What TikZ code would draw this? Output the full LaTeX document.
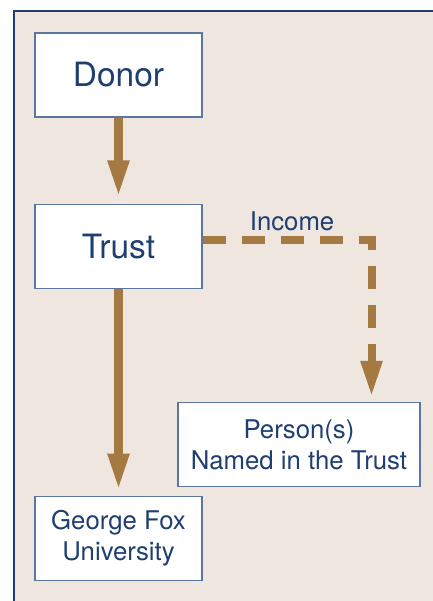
\documentclass[tikz,border=0pt]{standalone}
\usepackage{fontspec}
\setmainfont{TeX Gyre Heros}
\usetikzlibrary{arrows.meta, positioning}
\definecolor{nvy}{HTML}{1F3F70}
\definecolor{edg}{HTML}{5B77A0}
\definecolor{brn}{HTML}{A57A42}
\definecolor{bge}{HTML}{EFE6E0}
\tikzset{
  box/.style  = {rectangle, draw=edg, fill=white, line width=0.8pt,
                 minimum width=4.175cm, minimum height=2.1cm,
                 align=center, text=nvy, font=\fontsize{18.3}{22}\selectfont},
  big/.style  = {box, font=\fontsize{23.8}{28}\selectfont},
  arr/.style  = {-{Triangle[length=0.9cm, width=0.5cm]}, line width=0.2cm, color=brn},
  darr/.style = {arr, dash pattern=on 0.575cm off 0.4cm, line join=miter},
  frm/.style  = {draw=nvy, fill=bge, line width=2pt},
}
\begin{document}
\begin{tikzpicture}[x=0.025cm, y=-0.025cm]

  \useasboundingbox (0,0) rectangle (433,601);
  \draw[frm] (14,11) rectangle (450,620);

  \node[big]                        (donor) at (118.5,75) {Donor};
  \node[big, below=2.15cm of donor]  (trust) {Trust};
  \node[box, below=5.17cm of trust] (gfu)  {George Fox\\University};
  \node[box, minimum width=6.05cm]  (pers)  at (299,444.5) {Person(s)\\Named in the Trust};
  \coordinate (inc) at (371.5,240);

  \draw[arr, shorten >=0.18cm] (donor) -- (trust);
  \draw[arr, shorten >=0.15cm] (trust) -- (gfu);

  % income to the named persons
  \draw[darr, shorten >=0.125cm] (trust.east |- inc) --
    node[above, pos=0.53, text=nvy, font=\fontsize{18.3}{22}\selectfont]{Income} (inc)
    -- (inc |- pers.north);

\end{tikzpicture}
\end{document}
